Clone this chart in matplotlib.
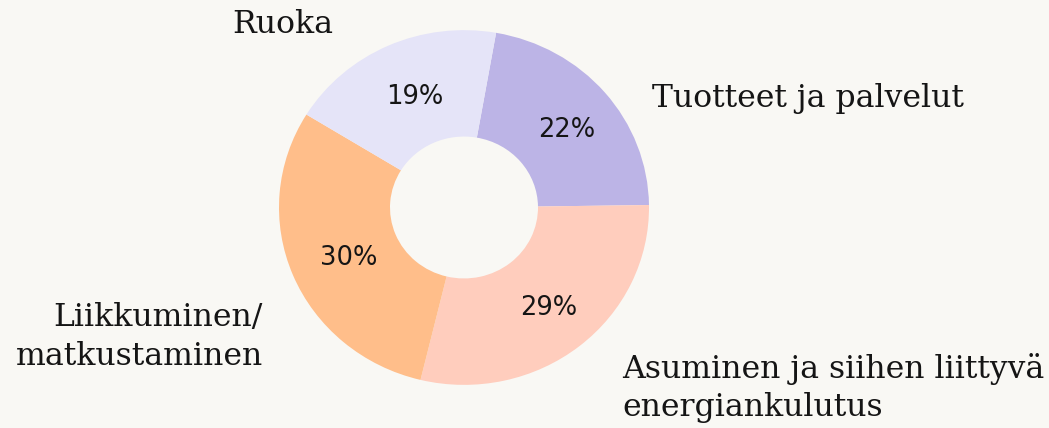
import matplotlib
matplotlib.use('Agg')
import matplotlib.pyplot as plt
from matplotlib.transforms import offset_copy

# Shares of the carbon footprint, clockwise from the top
categories = ['Tuotteet ja palvelut', 'Asuminen ja siihen liittyvä\nenergiankulutus',
              'Liikkuminen/\nmatkustaminen', 'Ruoka']
shares = [22, 29, 30, 19]
colors = ['#BCB4E6', '#FFCDBD', '#FFBE8A', '#E5E4F8']

bg = '#F9F8F4'
W, H = 1049, 428
sy = 1.043  # the original donut is slightly wider than tall


def py(y):
    # image row -> data y
    return (H - y) * sy


fig = plt.figure(figsize=(W / 100, H / 100), dpi=100, facecolor=bg)
ax = fig.add_axes([0, 0, 1, 1])
ax.set_facecolor(bg)
ax.axis('off')

wedges, texts, autotexts = ax.pie(
    shares, colors=colors, startangle=80, counterclock=False,
    center=(464, py(207.5)), radius=185, autopct='%d%%', pctdistance=0.7,
    wedgeprops=dict(width=185 - 74, linewidth=0),
    textprops=dict(fontsize=18.5, family='DejaVu Sans', color='#151515'))
ax.set_aspect('auto')
ax.set_xlim(0, W)
ax.set_ylim(0, H * sy)

# nudge the percentages a little, like in the original
for t in autotexts:
    t.set_transform(offset_copy(ax.transData, fig=fig, x=4, y=-3, units='dots'))

label_font = dict(family='DejaVu Serif', fontsize=22.7, color='#151515', linespacing=1.33)
ax.text(232, py(24), categories[3], ha='left', va='center', **label_font)
ax.text(652, py(98), categories[0], ha='left', va='center', **label_font)
ax.text(622, py(388), categories[1], ha='left', va='center', **label_font)
ax.text(263, py(337), categories[2], ha='right', va='center', multialignment='right', **label_font)

fig.savefig('out.png', dpi=100, facecolor=bg)
